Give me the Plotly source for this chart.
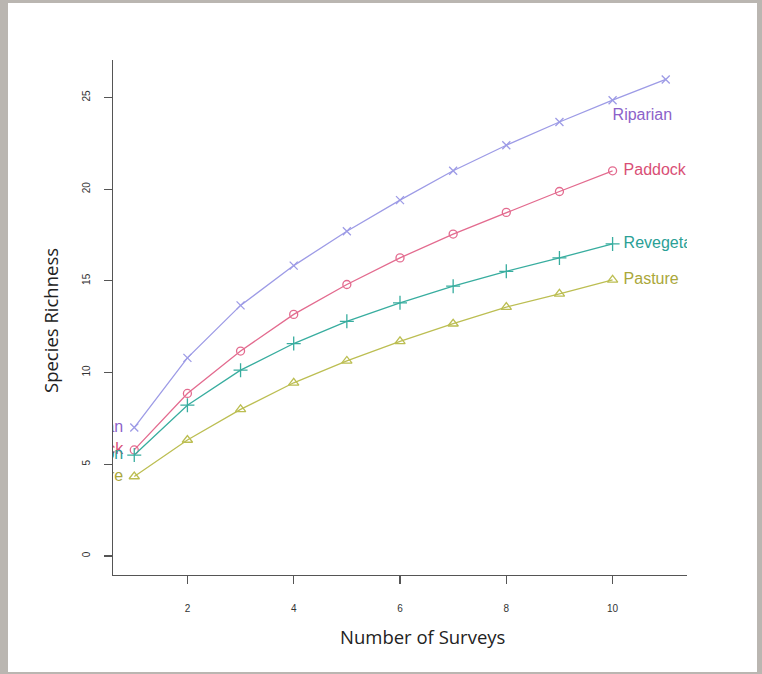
import plotly.graph_objects as go

# ---- data ----
surveys_riparian = [1, 2, 3, 4, 5, 6, 7, 8, 9, 10, 11]
riparian = [7.0, 10.8, 13.66, 15.83, 17.7, 19.4, 21.0, 22.39, 23.66, 24.85, 25.98]

surveys = [1, 2, 3, 4, 5, 6, 7, 8, 9, 10]
paddock = [5.78, 8.86, 11.17, 13.17, 14.8, 16.25, 17.55, 18.73, 19.87, 21.0]
revegetation = [5.5, 8.22, 10.13, 11.58, 12.79, 13.8, 14.71, 15.52, 16.25, 17.01]
pasture = [4.33, 6.32, 7.99, 9.44, 10.63, 11.7, 12.66, 13.57, 14.29, 15.05]

names = ["Riparian", "Paddock", "Revegetation", "Pasture"]
x_ticks = [2, 4, 6, 8, 10]
y_ticks = [0, 5, 10, 15, 20, 25]
x_label = "Number of Surveys"
y_label = "Species Richness"

# ---- styling ----
W, H = 762, 674
L, R, T, B = 113, 75, 60, 99
PW, PH = W - L - R, H - T - B
XR = [0.6, 11.4]
YR = [-1.04, 27.04]

line_cols = {"Riparian": "#9d9be6", "Paddock": "#e36b8f", "Revegetation": "#38ad9f", "Pasture": "#bcbe52"}
text_cols = {"Riparian": "#8c62c9", "Paddock": "#d94f76", "Revegetation": "#2aa096", "Pasture": "#aaa73a"}
symbols = {"Riparian": "x-thin-open", "Paddock": "circle-open", "Revegetation": "cross-thin-open", "Pasture": "triangle-up-open"}
msize = {"Riparian": 8, "Paddock": 8, "Revegetation": 10, "Pasture": 9}


def px_to_paper(px, py):
    return (px - L) / PW, (H - B - py) / PH


unit_x = PW / (XR[1] - XR[0])
gap = 11 / unit_x

series = [
    ("Riparian", surveys_riparian, riparian),
    ("Paddock", surveys, paddock),
    ("Revegetation", surveys, revegetation),
    ("Pasture", surveys, pasture),
]

fig = go.Figure()
for name, xs, ys in series:
    fig.add_trace(go.Scatter(
        x=xs, y=ys, mode="lines+markers", name=name,
        line=dict(color=line_cols[name], width=1.3),
        marker=dict(symbol=symbols[name], size=msize[name],
                    line=dict(color=line_cols[name], width=1.3), color=line_cols[name]),
        showlegend=False, hoverinfo="skip",
    ))

# left-side labels (clipped by plot area)
for name, xs, ys in series:
    fig.add_trace(go.Scatter(
        x=[xs[0] - gap], y=[ys[0]], mode="text", text=[name],
        textposition="middle left",
        textfont=dict(family="Liberation Sans", size=16, color=text_cols[name]),
        showlegend=False, hoverinfo="skip",
    ))

# right-side labels
for name, xs, ys in series:
    if name == "Riparian":
        lx, ly = surveys[-1], 24.0
    else:
        lx, ly = xs[-1] + gap, ys[-1]
    fig.add_trace(go.Scatter(
        x=[lx], y=[ly], mode="text", text=[name],
        textposition="middle right",
        textfont=dict(family="Liberation Sans", size=16, color=text_cols[name]),
        showlegend=False, hoverinfo="skip",
    ))

axis_common = dict(
    showgrid=False, zeroline=False, showline=True, linecolor="#555555", linewidth=1.3,
    ticks="outside", ticklen=8, tickwidth=1.2, tickcolor="#555555",
    tickfont=dict(family="Liberation Sans", size=10, color="#333333"),
)

fig.update_xaxes(range=XR, tickvals=x_ticks, ticklabelstandoff=16, **axis_common)
fig.update_yaxes(range=YR, tickvals=y_ticks, tickangle=-90, ticklabelstandoff=10, **axis_common)

# white panel over gray page
x0, y0 = px_to_paper(8, 3)
x1, y1 = px_to_paper(757, 672)
fig.add_shape(type="rect", xref="paper", yref="paper", x0=x0, y0=y1, x1=x1, y1=y0,
              fillcolor="white", line=dict(width=0), layer="below")

ax, ay = px_to_paper(422, 636)
fig.add_annotation(text=x_label, xref="paper", yref="paper", x=ax, y=ay, showarrow=False,
                   xanchor="center", yanchor="middle",
                   font=dict(family="Open Sans", size=18.5, color="#222222"))
ax, ay = px_to_paper(50, 321)
fig.add_annotation(text=y_label, xref="paper", yref="paper", x=ax, y=ay, showarrow=False,
                   textangle=-90, xanchor="center", yanchor="middle",
                   font=dict(family="Open Sans", size=18.5, color="#222222"))

fig.update_layout(
    width=W, height=H,
    margin=dict(l=L, r=R, t=T, b=B, pad=0),
    paper_bgcolor="#bab6b1", plot_bgcolor="white",
)

fig.write_html("out.html",
               config={"displayModeBar": False, "staticPlot": True},
               post_script="document.body.style.margin='0';document.body.style.background='#bab6b1';")
